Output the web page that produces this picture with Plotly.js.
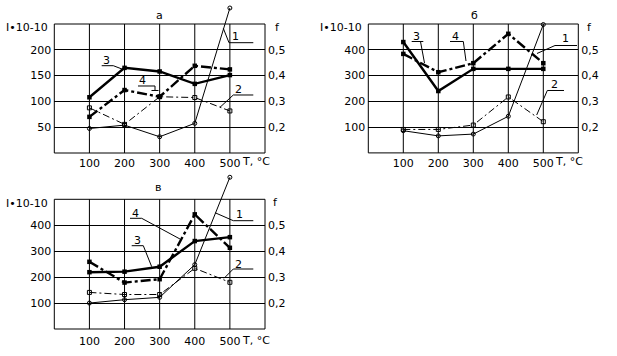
<!DOCTYPE html>
<html><head><meta charset="utf-8">
<script src="https://cdn.plot.ly/plotly-3.0.1.min.js"></script>
<style>html,body{margin:0;padding:0;background:#fff}#chart{width:617px;height:356px}</style>
</head><body><div id="chart"></div>
<script>
// ---------- data ----------
const TEMPS = [100, 200, 300, 400, 500];
const X_TICK_LABELS = ['100', '200', '300', '400', '500'];
const F_TICKS = [0.2, 0.3, 0.4, 0.5];
const A_I_TICKS = [50, 100, 150, 200];
const BV_I_TICKS = [100, 200, 300, 400];
const PANEL_TITLES = ['а', 'б', 'в'];
const SERIES_NAMES = ['1', '2', '3', '4'];
const Y_LABEL = 'I•10-10';
const F_LABEL = 'f';
const X_UNIT = 'T, °C';

// panel а  (curves 1,2 = friction coefficient f; curves 3,4 = wear intensity I)
const A_F1 = [0.195, 0.208, 0.163, 0.215, 0.662];
const A_F2 = [0.275, 0.211, 0.318, 0.315, 0.263];
const A_I3 = [108, 165, 158, 134, 151];
const A_I4 = [70, 122, 109, 169, 162];
// panel б
const B_F1 = [0.186, 0.166, 0.173, 0.242, 0.598];
const B_F2 = [0.191, 0.191, 0.208, 0.317, 0.221];
const B_I3 = [430, 240, 326, 326, 326];
const B_I4 = [384, 313, 348, 462, 348];
// panel в
const V_F1 = [0.200, 0.213, 0.222, 0.348, 0.685];
const V_F2 = [0.241, 0.233, 0.233, 0.334, 0.280];
const V_I3 = [219, 221, 240, 339, 354];
const V_I4 = [259, 179, 192, 442, 313];

// ---------- layout helpers ----------
const W = 617, H = 356;
const FONT = {family: 'DejaVu Sans', size: 11, color: '#000'};
const PX = x => x / W, PY = y => 1 - y / H;
const XMAX = 600;

const panels = [
  {title: PANEL_TITLES[0], f1: A_F1, f2: A_F2, i3: A_I3, i4: A_I4, iTicks: A_I_TICKS, iMax: 250, k: 0.002,
   box: {l: 54.3, r: 265, t: 24, b: 153}, plotTop: 3, titlePos: [159.3, 15], yLab: [49.8, 27.3], fLab: [272.7, 27.3], xLabY: 163, xStand: 2,
   leaders: [
     {n: 0, t: [235, 36.5], p: [[223.3, 28.3], [229, 42.7], [253.3, 42.7]]},
     {n: 1, t: [238.5, 89.3], p: [[220, 107.3], [233.3, 95], [253.3, 95]]},
     {n: 2, t: [106.7, 60.5], p: [[101.7, 65.7], [113.3, 65.7], [122.7, 69.3]]},
     {n: 3, t: [142.7, 80], p: [[138, 86], [155, 86], [155, 90.5]], extra: [[151.5, 90.5], [158.5, 90.5]]}
   ]},
  {title: PANEL_TITLES[1], f1: B_F1, f2: B_F2, i3: B_I3, i4: B_I4, iTicks: BV_I_TICKS, iMax: 500, k: 0.001,
   box: {l: 368.3, r: 578.3, t: 24, b: 152.9}, plotTop: 18, titlePos: [475, 15], yLab: [363.5, 27.3], fLab: [585, 27.3], xLabY: 163, xStand: 2,
   leaders: [
     {n: 0, t: [565, 38.5], p: [[537, 53.5], [555, 45.5], [577, 45.5]]},
     {n: 1, t: [554, 84.5], p: [[536.7, 115], [547.3, 90.5], [564, 90.5]]},
     {n: 2, t: [416.7, 36.5], p: [[411.7, 41.5], [423.3, 41.5]], extra: [[420.5, 41.5], [424.5, 63]]},
     {n: 3, t: [455, 36.5], p: [[450, 41.5], [463.3, 41.5], [466, 61]]}
   ]},
  {title: PANEL_TITLES[2], f1: V_F1, f2: V_F2, i3: V_I3, i4: V_I4, iTicks: BV_I_TICKS, iMax: 500, k: 0.001,
   box: {l: 54.3, r: 265, t: 199.3, b: 329}, plotTop: 172, titlePos: [158.3, 188], yLab: [50, 203.3], fLab: [270.7, 202.3], xLabY: 341.5, xStand: 4,
   leaders: [
     {n: 0, t: [239.3, 214], p: [[215, 212.7], [233.3, 220.7], [253.3, 220.7]]},
     {n: 1, t: [238.5, 264], p: [[224, 278.3], [233.3, 269], [253.3, 269]]},
     {n: 2, t: [137.3, 240.3], p: [[131.7, 245.7], [143.3, 245.7], [151.7, 266.7]]},
     {n: 3, t: [135.5, 213], p: [[130, 218.3], [141.7, 218.3], [180, 239]]}
   ]}
];

const traces = [], shapes = [], annotations = [];
const layout = {
  width: W, height: H, margin: {l: 0, r: 0, t: 0, b: 0},
  paper_bgcolor: '#fff', plot_bgcolor: 'rgba(0,0,0,0)',
  showlegend: false, separators: ', ', font: FONT
};

const LINE_STYLES = [
  {line: {color: '#000', width: 1}, marker: {symbol: 'circle-open', size: 4, color: '#000', line: {width: 1, color: '#000'}}},
  {line: {color: '#000', width: 1, dash: '7px,3px,2px,3px'}, marker: {symbol: 'square-open', size: 4, color: '#000', line: {width: 1, color: '#000'}}},
  {line: {color: '#000', width: 2.4}, marker: {symbol: 'square', size: 4.5, color: '#000'}},
  {line: {color: '#000', width: 2.4, dash: '10px,3px,3px,3px'}, marker: {symbol: 'square', size: 4.5, color: '#000'}}
];

function path(pts) {
  return pts.map((p, i) => (i ? 'L' : 'M') + PX(p[0]).toFixed(5) + ',' + PY(p[1]).toFixed(5)).join(' ');
}

panels.forEach((pn, i) => {
  const xId = i === 0 ? 'x' : 'x' + (i + 1);
  const yI = i === 0 ? 'y' : 'y' + (2 * i + 1);
  const yF = 'y' + (2 * i + 2);
  const xKey = 'xaxis' + (i === 0 ? '' : i + 1);
  const yIKey = 'yaxis' + (i === 0 ? '' : 2 * i + 1);
  const yFKey = 'yaxis' + (2 * i + 2);
  const b = pn.box;
  const iTop = pn.iMax * (b.b - pn.plotTop) / (b.b - b.t);

  layout[xKey] = {
    domain: [PX(b.l), PX(b.r)], range: [0, XMAX], anchor: yI,
    tickvals: TEMPS, ticktext: X_TICK_LABELS, ticks: '', showgrid: false, zeroline: false, showline: false,
    tickfont: FONT, fixedrange: true, ticklabelstandoff: pn.xStand || 0
  };
  layout[yIKey] = {
    domain: [PY(b.b), PY(pn.plotTop)], range: [0, iTop], anchor: xId,
    tickvals: pn.iTicks, ticks: '', showgrid: true, gridcolor: '#000', gridwidth: 1,
    zeroline: false, showline: false, tickfont: FONT, fixedrange: true, ticklabelstandoff: 2
  };
  layout[yFKey] = {
    overlaying: yI, side: 'right', anchor: xId, range: [0.1, 0.1 + pn.k * iTop],
    tickvals: F_TICKS, tickformat: '.1f', ticks: '', showgrid: false, zeroline: false, showline: false,
    tickfont: FONT, fixedrange: true, ticklabelstandoff: 2
  };

  const ys = [pn.f1, pn.f2, pn.i3, pn.i4];
  ys.forEach((vals, s) => {
    traces.push(Object.assign({
      type: 'scatter', mode: 'lines+markers', x: TEMPS, y: vals, name: SERIES_NAMES[s],
      xaxis: xId, yaxis: s < 2 ? yF : yI, cliponaxis: false, hoverinfo: 'skip'
    }, JSON.parse(JSON.stringify(LINE_STYLES[s]))));
  });

  // frame and vertical grid lines
  shapes.push({type: 'rect', xref: 'paper', yref: 'paper', x0: PX(b.l), x1: PX(b.r), y0: PY(b.b), y1: PY(b.t),
    line: {color: '#000', width: 1}, layer: 'below'});
  TEMPS.forEach(v => {
    const xp = b.l + v / XMAX * (b.r - b.l);
    shapes.push({type: 'line', xref: 'paper', yref: 'paper', x0: PX(xp), x1: PX(xp), y0: PY(b.b), y1: PY(b.t),
      line: {color: '#000', width: 1}, layer: 'below'});
  });

  // texts
  const ann = (txt, x, y, xa) => annotations.push({text: txt, xref: 'paper', yref: 'paper', x: PX(x), y: PY(y),
    xanchor: xa || 'center', yanchor: 'middle', showarrow: false, font: FONT});
  ann(pn.title, pn.titlePos[0], pn.titlePos[1]);
  ann(Y_LABEL, pn.yLab[0], pn.yLab[1], 'right');
  ann(F_LABEL, pn.fLab[0], pn.fLab[1], 'left');
  const x500 = b.l + TEMPS[4] / XMAX * (b.r - b.l);
  ann(X_UNIT, x500 + 9.8, pn.xLabY - 1.5, 'left');

  pn.leaders.forEach(ld => {
    ann(SERIES_NAMES[ld.n], ld.t[0], ld.t[1]);
    shapes.push({type: 'path', xref: 'paper', yref: 'paper', path: path(ld.p), line: {color: '#000', width: 1}});
    if (ld.extra) shapes.push({type: 'path', xref: 'paper', yref: 'paper', path: path(ld.extra), line: {color: '#000', width: 1}});
  });
});

layout.shapes = shapes;
layout.annotations = annotations;
Plotly.newPlot('chart', traces, layout, {staticPlot: true, displayModeBar: false});
</script>
</body></html>
